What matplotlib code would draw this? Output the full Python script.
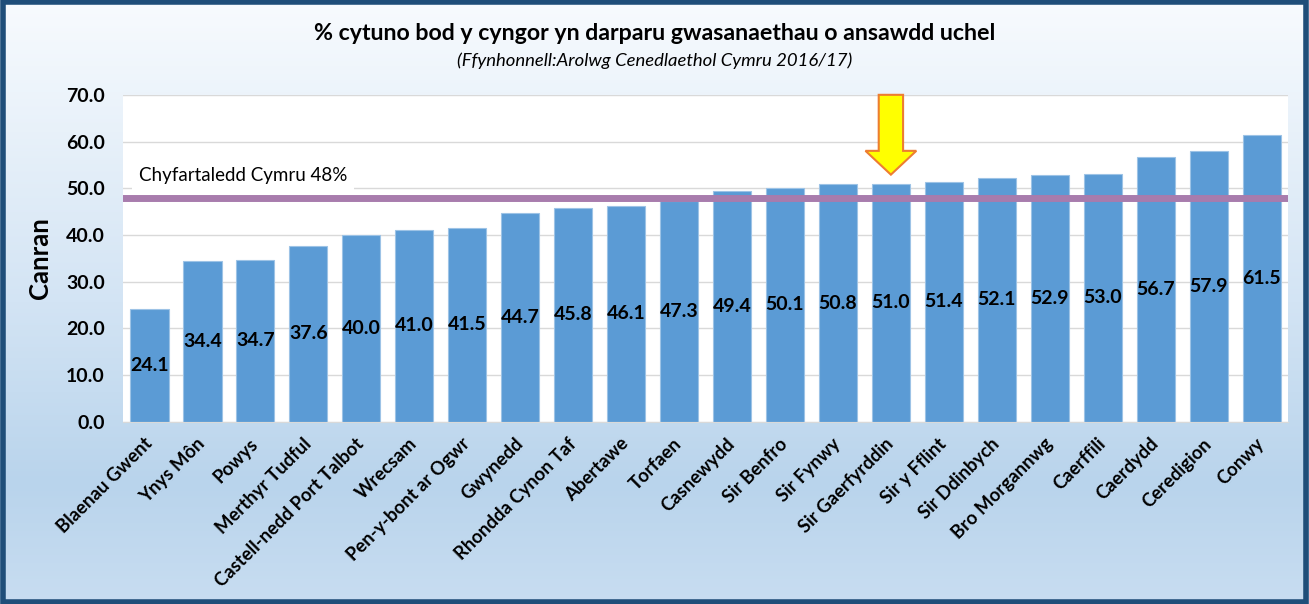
import numpy as np
import matplotlib
matplotlib.use('Agg')
import matplotlib.pyplot as plt
from matplotlib.patches import FancyArrow, Rectangle
from matplotlib.colors import LinearSegmentedColormap

# data
siroedd = ['Blaenau Gwent', 'Ynys Môn', 'Powys', 'Merthyr Tudful',
           'Castell-nedd Port Talbot', 'Wrecsam', 'Pen-y-bont ar Ogwr',
           'Gwynedd', 'Rhondda Cynon Taf', 'Abertawe', 'Torfaen',
           'Casnewydd', 'Sir Benfro', 'Sir Fynwy', 'Sir Gaerfyrddin',
           'Sir y Fflint', 'Sir Ddinbych', 'Bro Morgannwg', 'Caerffili',
           'Caerdydd', 'Ceredigion', 'Conwy']
canran = [24.1, 34.4, 34.7, 37.6, 40.0, 41.0, 41.5, 44.7, 45.8, 46.1, 47.3,
          49.4, 50.1, 50.8, 51.0, 51.4, 52.1, 52.9, 53.0, 56.7, 57.9, 61.5]
cymru = 48
amlygu = 'Sir Gaerfyrddin'
yticks = [0, 10, 20, 30, 40, 50, 60, 70]

plt.rcParams['font.family'] = ['Lato', 'DejaVu Sans']

fig = plt.figure(figsize=(13.09, 6.04), dpi=100)

# background gradient
bg = fig.add_axes([0, 0, 1, 1], zorder=-10)
cm = LinearSegmentedColormap.from_list('bg', [(0, '#f8fbfe'), (0.5, '#d3e4f4'),
                                              (0.8, '#b9d4ec'), (1, '#c8ddf1')])
bg.imshow(np.linspace(0, 1, 256).reshape(-1, 1), aspect='auto', cmap=cm,
          extent=[0, 1, 0, 1], origin='upper')
bg.set_xlim(0, 1); bg.set_ylim(0, 1)
bg.axis('off')
bg.add_patch(Rectangle((0.002, 0.004), 0.996, 0.992, transform=bg.transAxes,
                       fill=False, edgecolor='#1f4e79', lw=4))

ax = fig.add_axes([0.094, 0.302, 0.890, 0.541])
x = np.arange(len(siroedd))
ax.bar(x, canran, width=0.72, color='#5b9bd5', edgecolor='#9dc3e6',
       linewidth=0.8, zorder=2)
for xi, v in zip(x, canran):
    ax.text(xi, v / 2, f'{v:.1f}', ha='center', va='center', fontsize=14,
            fontweight='bold', color='black', zorder=4)

ax.axhline(cymru, color='#a87cad', lw=5, zorder=3)
ax.text(-0.2, cymru + 4.7, f'Chyfartaledd Cymru {cymru}%', fontsize=13.5,
        ha='left', va='center', zorder=4,
        bbox=dict(boxstyle='square,pad=0.35', fc='white', ec='none'))

# arrow pointing at the highlighted council
ia = siroedd.index(amlygu)
tip = canran[ia] + 1.9
ax.add_patch(FancyArrow(ia, 70, 0, tip - 70, width=0.46, head_width=0.96,
                        head_length=5.1, length_includes_head=True,
                        fc='#ffff00', ec='#ed7d31', lw=1.5, zorder=5,
                        clip_on=False))

ax.set_xlim(-0.5, len(siroedd) - 0.5)
ax.set_ylim(0, 70)
ax.set_yticks(yticks)
ax.set_yticklabels([f'{t:.1f}' for t in yticks], fontsize=14, fontweight='bold')
ax.set_xticks(x)
ax.set_xticklabels(siroedd, rotation=45, ha='right', va='center',
                   rotation_mode='anchor', fontsize=13.3, fontweight='bold')
ax.tick_params(axis='both', length=0)
ax.tick_params(axis='y', pad=13)
ax.tick_params(axis='x', pad=14)
ax.grid(axis='y', color='#d9d9d9', lw=1, zorder=0)
ax.set_axisbelow(True)
for s in ['left', 'right', 'top']:
    ax.spines[s].set_visible(False)
ax.spines['bottom'].set_color('#d9d9d9')
ax.set_ylabel('Canran', fontsize=18.5, fontweight='bold', labelpad=10)

fig.text(0.5, 0.945, '% cytuno bod y cyngor yn darparu gwasanaethau o ansawdd uchel',
         ha='center', va='center', fontsize=16.7, fontweight='bold')
fig.text(0.5, 0.900, '(Ffynhonnell:Arolwg Cenedlaethol Cymru 2016/17)',
         ha='center', va='center', fontsize=13.3, style='italic')

fig.savefig('out.png', dpi=100)
